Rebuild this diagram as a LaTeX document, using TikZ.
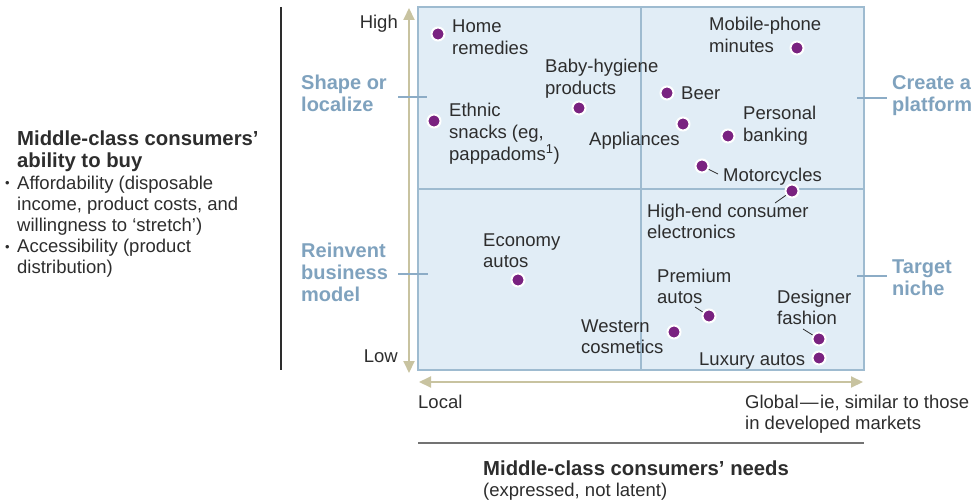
\documentclass[tikz,border=0pt]{standalone}
\usepackage{fontspec}
\setmainfont{Liberation Sans}
\usetikzlibrary{arrows.meta}

\definecolor{ink}{RGB}{45,45,45}
\definecolor{stratblue}{RGB}{127,162,190}
\definecolor{tickblue}{RGB}{140,172,198}
\definecolor{cellfill}{RGB}{225,237,246}
\definecolor{cellline}{RGB}{158,187,208}
\definecolor{plum}{RGB}{122,34,128}
\definecolor{axisk}{RGB}{200,195,160}
\definecolor{rulegray}{RGB}{115,115,115}

% stacked lines whose baseline is the first line
\newcommand{\stack}[1]{\begin{tabular}[t]{@{}l@{}}#1\end{tabular}}
\newcommand{\bul}{\makebox[12pt][l]{\raisebox{1.2pt}{\fontsize{13}{13}\selectfont •}}}

\tikzset{
  lab/.style={font=\fontsize{18.5}{21.5}\selectfont, text=ink, inner sep=0pt, anchor=base west},
  labr/.style={lab, anchor=base east},
  strat/.style={font=\bfseries\fontsize{20}{22}\selectfont, text=stratblue, inner sep=0pt, anchor=base west},
  head/.style={font=\bfseries\fontsize{20.3}{22}\selectfont, text=ink, inner sep=0pt, anchor=base west},
  pdot/.style={circle, fill=plum, draw=white, line width=2pt, minimum size=13pt, inner sep=0pt},
  leader/.style={draw=ink, line width=0.8pt},
  axisline/.style={draw=axisk, line width=2pt,
    {Triangle[width=11pt,length=12pt]}-{Triangle[width=11pt,length=12pt]}},
  tickline/.style={draw=tickblue, line width=1.2pt},
  qbox/.style={fill=cellfill, draw=cellline, line width=1.2pt},
  qline/.style={draw=cellline, line width=1.2pt}
}

\begin{document}
\begin{tikzpicture}[x=1pt,y=-1pt]
\path[use as bounding box] (0,0) rectangle (976,500);

% ---- left description ----
\node[head] (ytitle) at (17,145) {\stack{Middle-class consumers’\\ability to buy}};
\node[lab, font=\fontsize{18.5}{21.2}\selectfont] (ybul) at (5,189) {\stack{%
  \bul Affordability (disposable\\
  \hspace*{12pt}income, product costs, and\\
  \hspace*{12pt}willingness to ‘stretch’)\\
  \bul Accessibility (product\\
  \hspace*{12pt}distribution)}};

\coordinate (sepT) at (281,7);
\coordinate (sepB) at (281,370);
\draw[draw=ink, line width=1.2pt] (sepT) -- (sepB);

% ---- matrix ----
\coordinate (boxNW) at (418,7);
\coordinate (boxSE) at (864,370);
\draw[qbox] (boxNW) rectangle (boxSE);
\coordinate (midT) at (641,7);
\coordinate (midB) at (641,370);
\coordinate (midL) at (418,189);
\coordinate (midR) at (864,189);
\draw[qline] (midT) -- (midB);
\draw[qline] (midL) -- (midR);

% ---- axes ----
\coordinate (vTop) at (409,8);
\coordinate (vBot) at (409,373);
\coordinate (hLeft) at (419,382);
\coordinate (hRight) at (863,382);
\draw[axisline] (vBot) -- (vTop);
\draw[axisline] (hLeft) -- (hRight);

\node[labr] (high) at (398,29) {High};
\node[labr] (low) at (398,362) {Low};
\node[lab] (local) at (418,408) {Local};
\node[lab] (global) at (745,408) {\stack{Global\kern1.5pt—\kern1.5pt ie, similar to those\\in developed markets}};

% ---- strategy labels and ticks ----
\node[strat] (shape) at (301,90) {\stack{Shape or\\localize}};
\node[strat] (reinvent) at (301,257) {\stack{Reinvent\\business\\model}};
\node[strat] (create) at (892,90) {\stack{Create a\\platform}};
\node[strat] (target) at (892,273) {\stack{Target\\niche}};

\coordinate (t1a) at (398,97);  \coordinate (t1b) at (427,97);
\coordinate (t2a) at (398,274); \coordinate (t2b) at (428,274);
\coordinate (t3a) at (857,98);  \coordinate (t3b) at (887,98);
\coordinate (t4a) at (857,276); \coordinate (t4b) at (887,276);
\draw[tickline] (t1a) -- (t1b);
\draw[tickline] (t2a) -- (t2b);
\draw[tickline] (t3a) -- (t3b);
\draw[tickline] (t4a) -- (t4b);

% ---- product positions ----
\coordinate (pHome) at (438,34);
\coordinate (pBaby) at (579,108);
\coordinate (pEthnic) at (434,121);
\coordinate (pAppl) at (683,124);
\coordinate (pBeer) at (667,93);
\coordinate (pMobile) at (797,48);
\coordinate (pBank) at (728,136);
\coordinate (pMoto) at (702,166);
\coordinate (pHigh) at (792,191);
\coordinate (pEcon) at (518,280);
\coordinate (pPrem) at (709,316);
\coordinate (pWest) at (674,332);
\coordinate (pDesign) at (819,339);
\coordinate (pLux) at (819,358);

% leader lines
\coordinate (eMoto) at (718,174);
\coordinate (eHigh) at (775,203);
\coordinate (ePrem) at (695,307);
\coordinate (eDesign) at (803,329);
\draw[leader] (pMoto) -- (eMoto);
\draw[leader] (pHigh) -- (eHigh);
\draw[leader] (pPrem) -- (ePrem);
\draw[leader] (pDesign) -- (eDesign);

% dots
\foreach \p in {Home,Baby,Ethnic,Appl,Beer,Mobile,Bank,Moto,High,Econ,Prem,West,Design,Lux}
  \node[pdot] (d\p) at (p\p) {};

% product labels
\node[lab] (lHome) at (452,33) {\stack{Home\\remedies}};
\node[lab] (lBaby) at (545,73) {\stack{Baby-hygiene\\products}};
\node[lab] (lEthnic) at (449,117) {\stack{Ethnic\\snacks (eg,\\pappadoms\textsuperscript{1})}};
\node[lab] (lAppl) at (589,145) {Appliances};
\node[lab] (lBeer) at (681,100) {Beer};
\node[lab] (lMobile) at (709,31) {\stack{Mobile-phone\\minutes}};
\node[lab] (lBank) at (743,120) {\stack{Personal\\banking}};
\node[lab] (lMoto) at (723,181) {Motorcycles};
\node[lab] (lHigh) at (647,217) {\stack{High-end consumer\\electronics}};
\node[lab] (lEcon) at (483,246) {\stack{Economy\\autos}};
\node[lab] (lPrem) at (657,282) {\stack{Premium\\autos}};
\node[lab] (lWest) at (581,332) {\stack{Western\\cosmetics}};
\node[lab] (lDesign) at (777,303) {\stack{Designer\\fashion}};
\node[lab] (lLux) at (699,365) {Luxury autos};

% ---- bottom title ----
\coordinate (ruleL) at (418,443);
\coordinate (ruleR) at (864,443);
\draw[draw=rulegray, line width=1.5pt] (ruleL) -- (ruleR);
\node[head] (xtitle) at (483,475) {Middle-class consumers’ needs};
\node[lab] (xsub) at (483,496) {(expressed, not latent)};

\end{tikzpicture}
\end{document}
